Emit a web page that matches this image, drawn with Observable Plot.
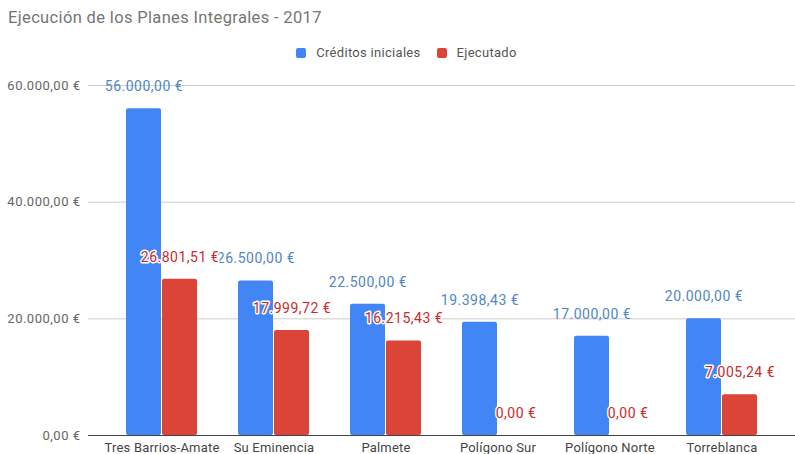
<!DOCTYPE html>
<html>
<head>
<meta charset="utf-8">
<script src="https://cdn.jsdelivr.net/npm/d3@7"></script>
<script src="https://cdn.jsdelivr.net/npm/@observablehq/plot@0.6"></script>
<style>
  html, body { margin: 0; padding: 0; background: #fff; }
  body { width: 795px; height: 454px; position: relative; overflow: hidden; font-family: Roboto, "Noto Sans", sans-serif; }
  #title { position: absolute; left: 8px; top: 8px; font-size: 16.5px; color: #757575; letter-spacing: 0.35px; }
  #legend { position: absolute; left: 0; width: 795px; top: 45px; display: flex; justify-content: center; gap: 16px; font-size: 13px; color: #555; letter-spacing: 0.3px; padding-left: 18px; box-sizing: border-box; }
  .item { display: flex; align-items: center; gap: 10px; }
  .sw { width: 10px; height: 10px; border-radius: 2px; display: inline-block; }
  #chart { position: absolute; left: 0; top: 68px; }
  #chart svg text { letter-spacing: 0.5px; }
</style>
</head>
<body>
<div id="title">Ejecución de los Planes Integrales - 2017</div>
<div id="legend"></div>
<div id="chart"></div>
<script>
const categories = ["Tres Barrios-Amate", "Su Eminencia", "Palmete", "Polígono Sur", "Polígono Norte", "Torreblanca"];
const series = ["Créditos iniciales", "Ejecutado"];
const creditos = [56000, 26500, 22500, 19398.43, 17000, 20000];
const ejecutado = [26801.51, 17999.72, 16215.43, 0, 0, 7005.24];
const yTicks = [0, 20000, 40000, 60000];
const barColors = ["#4285f4", "#db4437"];
const labelColors = ["#4f86c6", "#cc2929"];

const loc = d3.formatLocale({decimal: ",", thousands: ".", grouping: [3], currency: ["", " €"]});
const fmt = loc.format("$,.2f");

const dataC = categories.map((c, i) => ({cat: c, v: creditos[i]}));
const dataE = categories.map((c, i) => ({cat: c, v: ejecutado[i]}));

// legend
const leg = document.getElementById("legend");
series.forEach((s, i) => {
  const it = document.createElement("div");
  it.className = "item";
  it.innerHTML = `<span class="sw" style="background:${barColors[i]}"></span><span>${s}</span>`;
  leg.appendChild(it);
});

const W = 795, H = 386;
const chart = Plot.plot({
  width: W,
  height: H,
  marginLeft: 88,
  marginRight: 0,
  marginTop: 17,
  marginBottom: 19,
  style: {fontFamily: "Roboto, 'Noto Sans', sans-serif", fontSize: "13px", background: "transparent", overflow: "visible"},
  x: {domain: categories, paddingInner: 0.368, paddingOuter: 0.329, label: null, tickSize: 0, tickPadding: 7},
  y: {domain: [0, 60000], ticks: yTicks, tickFormat: fmt, label: null, tickSize: 0, tickPadding: 8},
  marks: [
    Plot.ruleY(yTicks.filter(d => d > 0), {stroke: "#cccccc", strokeWidth: 1}),
    Plot.barY(dataC, {x: "cat", y: "v", fill: barColors[0], insetRight: 36, rx: 2}),
    Plot.barY(dataE, {x: "cat", y: "v", fill: barColors[1], insetLeft: 36, rx: 2}),
    Plot.ruleY([0], {stroke: "#444", strokeWidth: 1.2}),
    Plot.text(dataC, {x: "cat", y: "v", text: d => fmt(d.v), dx: -18, dy: -22, fill: labelColors[0], fontSize: 14}),
    Plot.text(dataE, {x: "cat", y: "v", text: d => fmt(d.v), dx: 18, dy: -22, fill: labelColors[1], fontSize: 14, stroke: "white", strokeWidth: 3})
  ]
});
chart.querySelectorAll("[aria-label='x-axis tick label'] text, [aria-label='x-axis'] text").forEach(t => { t.setAttribute("fill", "#444"); t.style.letterSpacing = "0.2px"; });
chart.querySelectorAll("[aria-label='y-axis tick label'] text, [aria-label='y-axis'] text").forEach(t => t.setAttribute("fill", "#666"));
document.getElementById("chart").appendChild(chart);
</script>
</body>
</html>
